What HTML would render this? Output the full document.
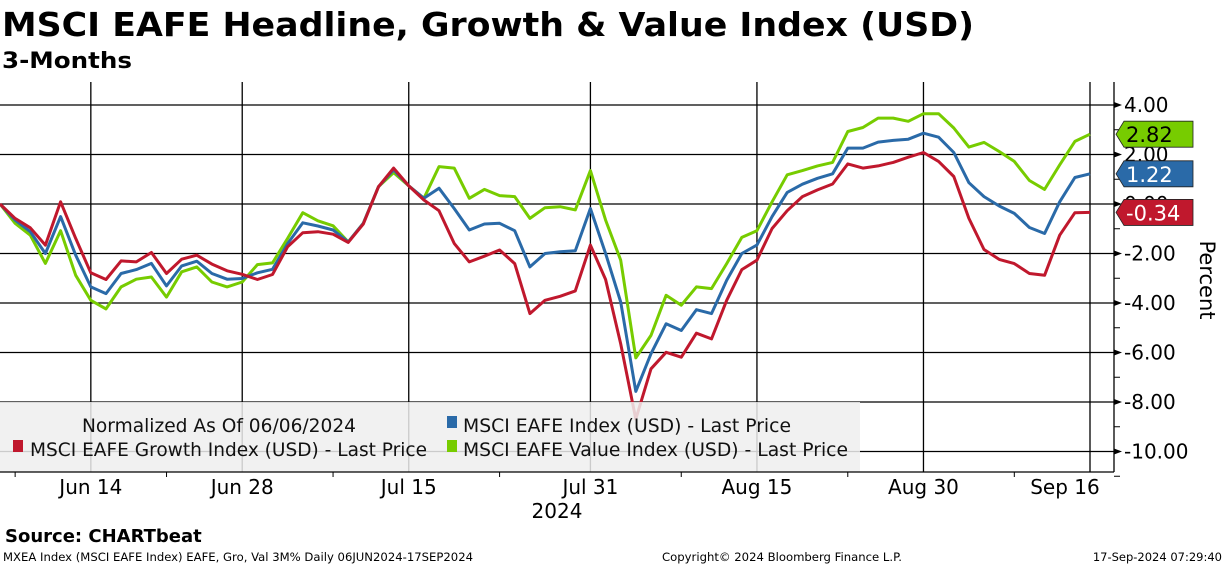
<!DOCTYPE html>
<html><head><meta charset="utf-8"><style>
html,body{margin:0;padding:0;background:#fff;}
svg{display:block;font-family:"DejaVu Sans","Liberation Sans",sans-serif;}
</style></head><body>
<svg id="chart" width="1224" height="566" viewBox="0 0 1224 566" xmlns="http://www.w3.org/2000/svg">
<rect width="1224" height="566" fill="#fff"/>
<text x="2" y="36" font-size="33" font-weight="bold" textLength="972" lengthAdjust="spacingAndGlyphs">MSCI EAFE Headline, Growth &amp; Value Index (USD)</text>
<text x="2" y="68" font-size="22" font-weight="bold" textLength="130" lengthAdjust="spacingAndGlyphs">3-Months</text>
<g id="grid"></g>
<g id="series"></g>
<g>
<rect x="0" y="402" width="860" height="70" fill="#efefef" fill-opacity="0.85"/>
<text x="82" y="432" font-size="19" fill="#111" textLength="274" lengthAdjust="spacingAndGlyphs">Normalized As Of 06/06/2024</text>
<rect x="447" y="416" width="10" height="12" fill="#2a6aa8"/>
<text x="463" y="432" font-size="19" fill="#111" textLength="328" lengthAdjust="spacingAndGlyphs">MSCI EAFE Index (USD) - Last Price</text>
<rect x="13" y="440" width="10" height="12" fill="#c0182d"/>
<text x="30" y="456" font-size="19" fill="#111" textLength="397" lengthAdjust="spacingAndGlyphs">MSCI EAFE Growth Index (USD) - Last Price</text>
<rect x="447" y="440" width="10" height="12" fill="#77cc00"/>
<text x="463" y="456" font-size="19" fill="#111" textLength="385" lengthAdjust="spacingAndGlyphs">MSCI EAFE Value Index (USD) - Last Price</text>
</g>
<g id="axes"></g>
<text transform="translate(1200,280) rotate(90)" text-anchor="middle" font-size="21">Percent</text>
<text x="557" y="518" text-anchor="middle" font-size="20">2024</text>
<text x="5" y="542" font-size="18" font-weight="bold">Source: CHARTbeat</text>
<text x="3" y="561" font-size="11.5" textLength="470" lengthAdjust="spacingAndGlyphs">MXEA Index (MSCI EAFE Index) EAFE, Gro, Val 3M%  Daily 06JUN2024-17SEP2024</text>
<text x="662" y="561" font-size="11.5" textLength="240" lengthAdjust="spacingAndGlyphs">Copyright© 2024 Bloomberg Finance L.P.</text>
<text x="1222" y="561" font-size="11.5" text-anchor="end">17-Sep-2024 07:29:40</text>
</svg>
<script>
const headline = [0,-0.65,-1.12,-2.0,-0.51,-2.07,-3.35,-3.62,-2.81,-2.65,-2.4,-3.31,-2.5,-2.31,-2.81,-3.04,-3.01,-2.78,-2.64,-1.6,-0.76,-0.89,-1.05,-1.53,-0.78,0.7,1.38,0.73,0.23,0.64,-0.18,-1.05,-0.81,-0.78,-1.08,-2.54,-2.0,-1.93,-1.89,-0.18,-2.0,-3.96,-7.57,-6.05,-4.84,-5.11,-4.27,-4.43,-3.08,-2.0,-1.66,-0.51,0.47,0.8,1.04,1.22,2.26,2.26,2.5,2.57,2.62,2.86,2.7,2.08,0.86,0.3,-0.08,-0.38,-0.95,-1.19,0.09,1.07,1.22];
const growth = [0,-0.58,-0.96,-1.66,0.09,-1.39,-2.78,-3.05,-2.3,-2.34,-1.96,-2.81,-2.23,-2.07,-2.43,-2.7,-2.84,-3.05,-2.85,-1.73,-1.16,-1.12,-1.22,-1.55,-0.81,0.7,1.45,0.73,0.16,-0.27,-1.59,-2.34,-2.11,-1.86,-2.41,-4.43,-3.89,-3.73,-3.51,-1.66,-3.05,-5.65,-8.69,-6.66,-5.99,-6.19,-5.22,-5.45,-3.89,-2.65,-2.27,-0.99,-0.27,0.3,0.57,0.81,1.62,1.45,1.54,1.68,1.89,2.08,1.72,1.11,-0.58,-1.84,-2.24,-2.41,-2.81,-2.88,-1.26,-0.35,-0.34];
const value = [0,-0.78,-1.26,-2.4,-1.08,-2.88,-3.89,-4.24,-3.35,-3.04,-2.95,-3.76,-2.74,-2.54,-3.15,-3.35,-3.15,-2.45,-2.38,-1.39,-0.35,-0.68,-0.88,-1.53,-0.78,0.7,1.27,0.73,0.23,1.51,1.45,0.23,0.59,0.34,0.3,-0.58,-0.15,-0.11,-0.24,1.35,-0.65,-2.27,-6.22,-5.31,-3.69,-4.09,-3.35,-3.42,-2.41,-1.35,-1.08,0.09,1.18,1.35,1.54,1.68,2.93,3.09,3.47,3.47,3.34,3.65,3.65,3.07,2.3,2.49,2.12,1.72,0.95,0.59,1.58,2.53,2.82];
const dateLabels = ["Jun 14","Jun 28","Jul 15","Jul 31","Aug 15","Aug 30","Sep 16"];
const dateIndex = [6,16,27,39,50,61,72];
const minorIndex = [1,11,22,33,45,56,67];
const yTicks = [4,2,0,-2,-4,-6,-8,-10];
const yTickLabels = ["4.00","2.00","0.00","-2.00","-4.00","-6.00","-8.00","-10.00"];

const NS="http://www.w3.org/2000/svg";
const X0=0, STEP=1090/72, AXIS_X=1114, TOP=82, BOTTOM=472;
function xs(i){return X0+i*STEP;}
function ys(v){return 204 - v*24.75;}
function mk(tag,attrs,parent){const e=document.createElementNS(NS,tag);for(const k in attrs)e.setAttribute(k,attrs[k]);parent.appendChild(e);return e;}

const grid=document.getElementById('grid');
yTicks.forEach((t,k)=>{
  const l=mk('line',{x1:0,x2:AXIS_X,y1:ys(t),y2:ys(t),stroke:'#000','stroke-width':1.3},grid);
  
  
});
dateIndex.forEach(i=>{
  const l=mk('line',{x1:xs(i),x2:xs(i),y1:TOP,y2:BOTTOM,stroke:'#000','stroke-width':1.3},grid);
  
  
});

const series=document.getElementById('series');
[[value,'#77cc00','line-value'],[headline,'#2a6aa8','line-headline'],[growth,'#c0182d','line-growth']].forEach(([d,c,n])=>{
  const p=mk('polyline',{points:d.map((v,i)=>xs(i).toFixed(1)+','+ys(v).toFixed(1)).join(' '),fill:'none',stroke:c,'stroke-width':3,'stroke-linejoin':'round'},series);
  
  
});

const axes=document.getElementById('axes');
const ax=mk('line',{x1:AXIS_X,x2:AXIS_X,y1:TOP,y2:BOTTOM,stroke:'#000','stroke-width':1.3},axes);


const bx=mk('line',{x1:0,x2:AXIS_X,y1:BOTTOM,y2:BOTTOM,stroke:'#000','stroke-width':1.3},axes);


yTicks.forEach((t,k)=>{
  const y=ys(t);
  const a=mk('path',{d:`M${AXIS_X} ${y-3}L${AXIS_X+8} ${y}L${AXIS_X} ${y+3}Z`,fill:'#000'},axes);
  
  
  const m=mk('line',{x1:AXIS_X,x2:AXIS_X+6,y1:ys(t-1),y2:ys(t-1),stroke:'#000'},axes);
  
  
  const tx=mk('text',{x:1124,y:y+7,'font-size':20},axes);
  tx.textContent=yTickLabels[k];
  
  
});
dateIndex.forEach((i,k)=>{
  const cx=Math.min(xs(i),1065);
  const tx=mk('text',{x:cx,y:494,'font-size':20,'text-anchor':'middle'},axes);
  tx.textContent=dateLabels[k];
  
  
});
minorIndex.forEach(i=>{
  const m=mk('line',{x1:xs(i),x2:xs(i),y1:BOTTOM,y2:BOTTOM+5,stroke:'#000'},axes);
  
  
});

[[value,'#77cc00','#000','badge-value'],[headline,'#2a6aa8','#fff','badge-headline'],[growth,'#c0182d','#fff','badge-growth']].forEach(([d,c,tc,n])=>{
  const v=d[d.length-1]; let y=ys(v);
  if(n==='badge-growth') y=Math.max(y,212);
  const g=mk('g',{},axes);
  
  
  mk('path',{d:`M1116 ${y}L1124 ${y-13}L1193 ${y-13}L1193 ${y+13}L1124 ${y+13}Z`,fill:c,stroke:'#222','stroke-width':0.8},g);
  const t=mk('text',{x:1126,y:y+8,'font-size':21,fill:tc},g);
  t.textContent=v.toFixed(2);
});
</script>
</body></html>
